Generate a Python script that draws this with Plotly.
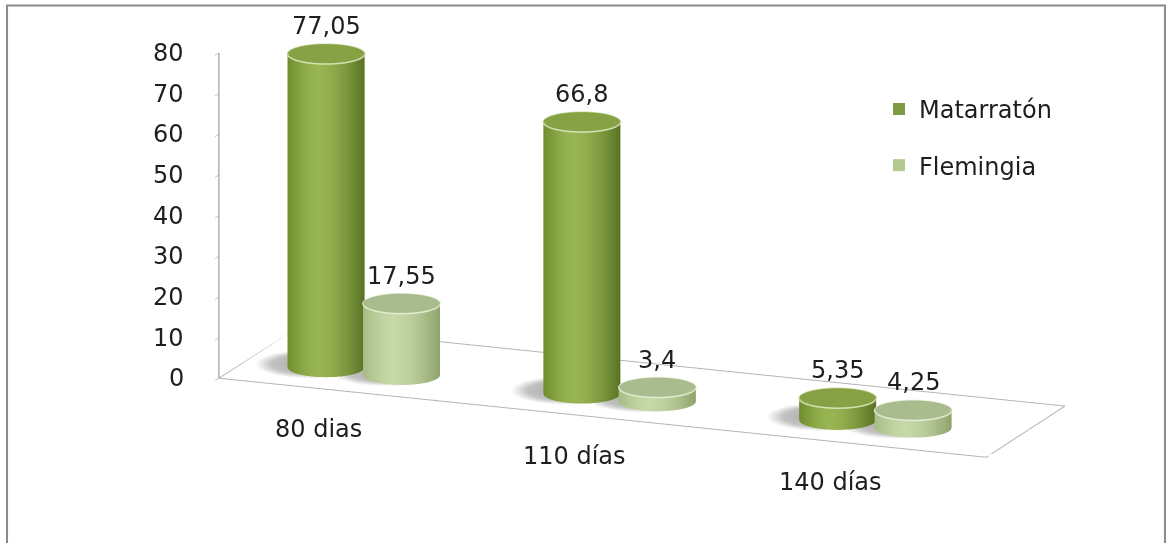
import numpy as np
import plotly.graph_objects as go

# ---------------- data ----------------
categories = ["80 dias", "110 días", "140 días"]
series_names = ["Matarratón", "Flemingia"]
matarraton = [77.05, 66.8, 5.35]
flemingia = [17.55, 3.4, 4.25]
z_ticks = [0, 10, 20, 30, 40, 50, 60, 70, 80]

# ---------------- style ----------------
# side shading: (highlight, left edge, right edge), cap colour, rim colour
shades = [
    dict(hi="#98b553", left="#6f8d2e", right="#587223", cap="#86a244", rim="#d6e3b6"),
    dict(hi="#c6d8a8", left="#a5bc83", right="#8ea36c", cap="#a9bc8e", rim="#e3ecd2"),
]
legend_colors = ["#7f9a45", "#b3c98f"]
FONT = "DejaVu Sans, Liberation Sans, Arial, sans-serif"
TXT = "#1e1e1e"
FS = 24

ZOOM = 1.17
AR = dict(x=2.6 * ZOOM, y=0.67 * ZOOM, z=1.06 * ZOOM)
x_range = [-0.5, len(categories) - 0.5]
depth = AR["y"] / AR["x"] * (x_range[1] - x_range[0])
y_range = [-depth / 2, depth / 2]
z_range = [0, 80]
R = 0.14
offsets = [-0.195, 0.10]
Y_BARS = -0.1

theta = np.radians(21.7)
elev = np.radians(15)
right_vec = np.array([np.cos(theta), np.sin(theta)])


def hex2rgb(h):
    h = h.lstrip("#")
    return np.array([int(h[i:i + 2], 16) for i in (0, 2, 4)], dtype=float)


def mix(c1, c2, w):
    c = hex2rgb(c1) * (1 - w) + hex2rgb(c2) * w
    return "rgb({:.0f},{:.0f},{:.0f})".format(*c)


def side_colour(u, sh, u0=-0.2):
    if u < u0:
        w = ((u0 - u) / (1 + u0)) ** 1.6
        return mix(sh["hi"], sh["left"], min(w, 1))
    w = ((u - u0) / (1 - u0)) ** 1.6
    return mix(sh["hi"], sh["right"], min(w, 1))


def cylinder(xc, yc, h, r, sh, n=72):
    t = np.linspace(0, 2 * np.pi, n, endpoint=False)
    cx = xc + r * np.cos(t)
    cy = yc + r * np.sin(t)
    u = (np.cos(t) * right_vec[0] + np.sin(t) * right_vec[1])
    side = [side_colour(v, sh) for v in u]
    xs = list(cx) + list(cx)
    ys = list(cy) + list(cy)
    zs = [0.0] * n + [h] * n
    vc = side + side
    I, J, Kk = [], [], []
    for a in range(n):
        b = (a + 1) % n
        I += [a, b]
        J += [b, b + n]
        Kk += [a + n, a + n]
    base = 2 * n
    xs += list(cx) + [xc]
    ys += list(cy) + [yc]
    zs += [h] * n + [h]
    vc += [sh["cap"]] * (n + 1)
    c = base + n
    for a in range(n):
        b = (a + 1) % n
        I.append(base + a)
        J.append(base + b)
        Kk.append(c)
    return xs, ys, zs, I, J, Kk, vc, cx, cy


def shadow(xc, yc, r, n=60):
    t = np.linspace(0, 2 * np.pi, n, endpoint=False)
    xs = [xc]
    ys = [yc]
    vc = ["#a4a4a4"]
    for frac, col in ((0.7, "#c2c2c2"), (1.0, "#ffffff")):
        xs += list(xc + frac * r * np.cos(t))
        ys += list(yc + frac * r * np.sin(t))
        vc += [col] * n
    I, J, Kk = [], [], []
    for a in range(n):
        b = (a + 1) % n
        I.append(0); J.append(1 + a); Kk.append(1 + b)
        I += [1 + a, 1 + b]
        J += [1 + n + a, 1 + n + a]
        Kk += [1 + b, 1 + n + b]
    return xs, ys, [0.0] * len(xs), I, J, Kk, vc


fig = go.Figure()

all_series = [matarraton, flemingia]

# soft floor shadows
for s, vals in enumerate(all_series):
    for ci, v in enumerate(vals):
        xs, ys, zs, I, J, Kk, vc = shadow(ci + offsets[s] - 0.07, Y_BARS + 0.02, 0.2)
        fig.add_trace(go.Mesh3d(
            x=xs, y=ys, z=zs, i=I, j=J, k=Kk, vertexcolor=vc,
            lighting=dict(ambient=1.0, diffuse=0.0, specular=0.0,
                          roughness=1.0, fresnel=0.0),
            hoverinfo="skip", showlegend=False, showscale=False,
        ))

annotations = []
for s, vals in enumerate(all_series):
    for ci, v in enumerate(vals):
        xc = ci + offsets[s]
        xs, ys, zs, I, J, Kk, vc, cx, cy = cylinder(xc, Y_BARS, v, R, shades[s])
        fig.add_trace(go.Mesh3d(
            x=xs, y=ys, z=zs, i=I, j=J, k=Kk, vertexcolor=vc,
            flatshading=False,
            lighting=dict(ambient=1.0, diffuse=0.0, specular=0.0,
                          roughness=1.0, fresnel=0.0),
            hoverinfo="skip", showlegend=False, showscale=False,
        ))
        fig.add_trace(go.Scatter3d(
            x=list(cx) + [cx[0]], y=list(cy) + [cy[0]], z=[v] * (len(cx) + 1),
            mode="lines", line=dict(color=shades[s]["rim"], width=3),
            hoverinfo="skip", showlegend=False,
        ))
        annotations.append(dict(
            x=xc, y=Y_BARS, z=v, text=f"{v:g}".replace(".", ","),
            showarrow=False, xanchor="center", yanchor="bottom", yshift=12,
            font=dict(family=FONT, size=FS, color=TXT),
        ))

# value-axis tick labels
for t in z_ticks:
    annotations.append(dict(
        x=x_range[0], y=y_range[0], z=t, text=str(t), showarrow=False,
        xanchor="right", yanchor="middle", xshift=-33,
        font=dict(family=FONT, size=FS, color=TXT),
    ))
# category labels
for ci, c in enumerate(categories):
    annotations.append(dict(
        x=ci, y=y_range[0], z=0, text=c, showarrow=False,
        xanchor="center", yanchor="top", xshift=-28, yshift=-22,
        font=dict(family=FONT, size=FS, color=TXT),
    ))

# floor outline
fx = [x_range[0], x_range[1], x_range[1], x_range[0], x_range[0]]
fy = [y_range[0], y_range[0], y_range[1], y_range[1], y_range[0]]
fig.add_trace(go.Scatter3d(
    x=fx, y=fy, z=[0] * 5, mode="lines",
    line=dict(color="#b4b4b4", width=2), hoverinfo="skip", showlegend=False,
))

# legend entries
for s in range(2):
    fig.add_trace(go.Scatter(
        x=[None], y=[None], mode="markers", name=series_names[s],
        legendgroup=f"g{s}",
        marker=dict(symbol="square", size=10, color=legend_colors[s]),
    ))

dist = 2.0
eye = dict(x=float(dist * np.sin(theta) * np.cos(elev)),
           y=float(-dist * np.cos(theta) * np.cos(elev)),
           z=float(dist * np.sin(elev)))
shift = (-0.1766, -0.1134, -0.1493)
eye = dict(x=eye["x"] + shift[0], y=eye["y"] + shift[1], z=eye["z"] + shift[2])
center = dict(x=shift[0], y=shift[1], z=shift[2])

axis_common = dict(showgrid=False, showbackground=False, zeroline=False,
                   showspikes=False, title=dict(text=""), showticklabels=False)

fig.update_layout(
    width=1172, height=543,
    margin=dict(l=0, r=0, t=0, b=0),
    paper_bgcolor="white", plot_bgcolor="white",
    font=dict(family=FONT, color=TXT),
    xaxis=dict(visible=False), yaxis=dict(visible=False),
    scene=dict(
        domain=dict(x=[0, 1], y=[0, 1]),
        aspectmode="manual", aspectratio=AR,
        xaxis=dict(range=x_range, tickvals=list(range(len(categories))),
                   showline=False, ticks="", **axis_common),
        yaxis=dict(range=y_range, visible=False, showgrid=False,
                   showbackground=False, zeroline=False, showspikes=False),
        zaxis=dict(range=z_range, tickvals=z_ticks, showline=True,
                   linecolor="#8c8c8c", linewidth=2, ticks="outside",
                   ticklen=10, tickcolor="#8c8c8c", **axis_common),
        camera=dict(eye=eye, center=center, up=dict(x=0, y=0, z=1),
                    projection=dict(type="orthographic")),
        annotations=annotations,
    ),
    legend=dict(x=0.75, y=0.84, xanchor="left", yanchor="top",
                font=dict(family=FONT, size=FS, color=TXT),
                bgcolor="rgba(0,0,0,0)", tracegroupgap=22, itemsizing="constant"),
    shapes=[dict(type="rect", xref="paper", yref="paper",
                 x0=0.006, x1=0.994, y0=-0.05, y1=0.99,
                 line=dict(color="#8a8a8a", width=2))],
)

fig.write_html("out.html")
